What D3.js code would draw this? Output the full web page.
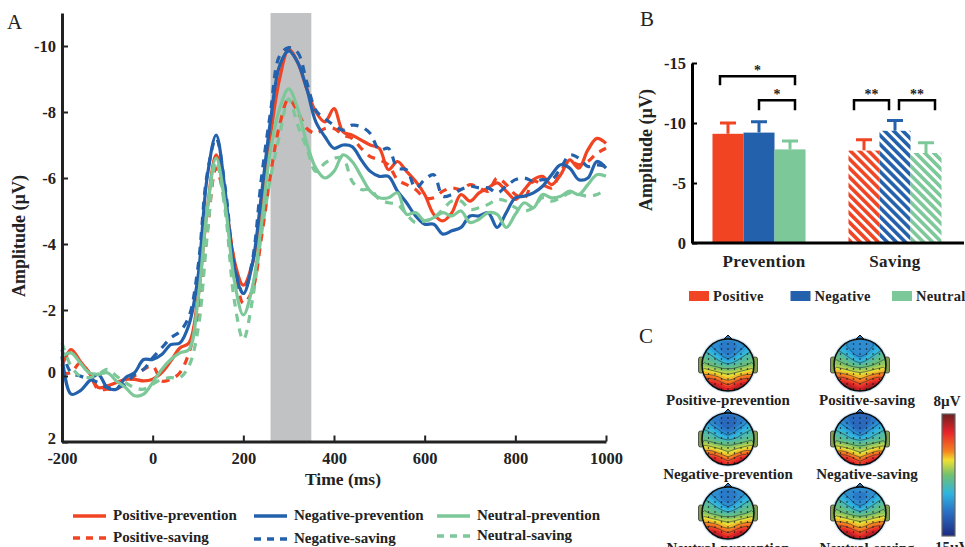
<!DOCTYPE html>
<html>
<head>
<meta charset="utf-8">
<script src="https://cdn.jsdelivr.net/npm/d3@7"></script>
<style>
  body { margin: 0; background: #fff; }
  svg { display: block; }
  text { font-family: "Liberation Serif", serif; font-weight: bold; fill: #222; }
  .panel { font-weight: normal; font-size: 21px; }
</style>
</head>
<body>
<div id="chart"></div>
<script>
/* A: ERP waveforms, sampled every 20 ms from -200 to 1000 */
const times = d3.range(-200, 1001, 20);

const positivePrevention = [-0.3,-0.8,-0.45,-0.1,0.35,0.3,0.2,0.1,0.1,0.15,
  0.1,-0.1,-0.45,-0.85,-1.0,-2.4,-5.0,-6.7,-5.3,-3.5,
  -2.75,-3.4,-5.0,-7.3,-9.0,-9.9,-9.5,-8.7,-8.0,-7.7,
  -8.1,-7.4,-7.3,-7.15,-7.0,-6.9,-6.25,-6.5,-6.2,-5.9,
  -5.5,-4.9,-4.7,-4.95,-5.5,-5.3,-5.55,-5.7,-5.85,-5.6,
  -5.35,-5.65,-5.95,-6.05,-5.8,-6.1,-6.55,-6.3,-6.85,-7.2,-7.05];
const positiveSaving = [-0.1,-0.1,-0.4,-0.1,0.4,0.4,0.4,0.2,0.0,-0.2,
  -0.3,0.15,0.1,-0.1,-0.7,-1.9,-4.3,-6.3,-5.2,-3.5,
  -2.2,-2.6,-4.2,-6.1,-7.6,-8.4,-8.0,-7.5,-7.35,-7.5,
  -7.5,-7.3,-7.2,-6.9,-6.65,-6.55,-6.4,-5.95,-5.8,-5.65,
  -5.4,-5.4,-5.6,-5.7,-5.65,-5.8,-5.7,-5.6,-6.0,-5.8,
  -5.5,-5.4,-5.9,-5.8,-5.7,-6.2,-6.5,-6.4,-6.5,-6.75,-6.9];
const negativePrevention = [-0.6,0.55,0.45,0.15,-0.05,0.35,0.4,0.05,-0.1,-0.5,
  -0.5,-0.65,-0.95,-1.0,-1.55,-3.0,-6.0,-7.3,-5.6,-3.3,
  -2.5,-3.4,-5.5,-7.75,-9.4,-9.85,-9.5,-8.7,-7.7,-7.25,
  -6.9,-7.0,-6.95,-6.55,-6.2,-6.05,-6.05,-5.6,-5.25,-4.85,
  -4.6,-4.6,-4.3,-4.4,-4.5,-4.85,-4.85,-4.95,-4.5,-4.95,
  -5.4,-5.45,-5.55,-5.75,-6.1,-6.4,-6.3,-5.95,-6.0,-6.5,-6.3];
const negativeSaving = [-0.8,-0.1,0.0,0.1,0.2,0.35,0.35,0.25,-0.05,-0.2,
  -0.55,-0.85,-1.15,-1.35,-1.8,-3.3,-6.1,-7.2,-5.7,-3.4,
  -2.5,-3.5,-6.0,-8.0,-9.7,-9.95,-9.8,-8.9,-8.05,-7.8,
  -7.6,-7.45,-7.6,-7.55,-7.35,-6.85,-6.9,-6.3,-6.25,-5.7,
  -5.95,-6.1,-5.45,-5.5,-5.65,-5.75,-5.7,-5.7,-5.55,-5.75,
  -5.95,-6.0,-5.9,-5.95,-5.95,-6.3,-6.7,-6.6,-6.35,-6.4,-6.35];
const neutralPrevention = [-0.6,-0.7,-0.4,-0.1,-0.05,-0.1,0.15,0.35,0.6,0.55,
  0.2,-0.2,-0.5,-0.7,-0.8,-2.3,-5.0,-6.6,-5.2,-2.9,
  -1.85,-2.7,-4.6,-6.85,-8.1,-8.7,-8.1,-7.05,-6.3,-6.0,
  -6.2,-6.7,-6.5,-6.05,-5.6,-5.4,-5.4,-5.55,-4.9,-4.95,
  -4.7,-4.8,-4.95,-4.85,-5.0,-4.65,-4.75,-4.95,-4.9,-4.5,
  -4.9,-5.25,-5.1,-5.5,-5.4,-5.45,-5.6,-5.5,-5.8,-6.1,-6.05];
const neutralSaving = [-1.0,-0.3,0.0,0.05,-0.05,-0.2,0.0,0.2,0.35,0.4,
  0.25,0.1,0.05,0.05,-0.3,-1.4,-4.2,-6.5,-5.0,-2.3,
  -1.1,-2.3,-4.3,-6.0,-7.3,-8.4,-7.6,-6.9,-6.2,-6.45,
  -6.6,-6.6,-5.9,-5.65,-5.65,-5.35,-5.25,-5.2,-4.9,-4.65,
  -4.7,-4.8,-5.05,-5.3,-5.3,-5.05,-5.1,-5.2,-5.35,-5.3,
  -5.1,-5.0,-5.1,-5.4,-5.3,-5.4,-5.55,-5.5,-5.45,-5.5,-5.65];

const windowMs = [260, 350];
const timeTicks = [-200, 0, 200, 400, 600, 800, 1000];
const ampTicks = [-10, -8, -6, -4, -2, 0, 2];

/* B: mean amplitude in the window, and the top of each error bar */
const groups = ["Prevention", "Saving"];
const conditions = ["Positive", "Negative", "Neutral"];
const preventionMeans = [-9.1, -9.2, -7.8];
const preventionErrTop = [-10.0, -10.1, -8.5];
const savingMeans = [-7.7, -9.35, -7.5];
const savingErrTop = [-8.6, -10.2, -8.35];
const barTicks = [-15, -10, -5, 0];

/* C: scalp map, amplitude on an 11 x 11 grid */
const topoGrid = [
  -9,-9,-9.5,-10,-10,-10,-10,-10,-9.5,-9,-9,
  -8,-8.5,-9.5,-10,-10.5,-10.5,-10.5,-10,-9.5,-8.5,-8,
  -6.5,-7.5,-8.5,-9.5,-10.5,-10.5,-10.5,-9.5,-8.5,-7.5,-6.5,
  -5.5,-6,-7,-8,-9.5,-10,-9.5,-8,-7,-6,-5.5,
  -4.5,-5,-5.5,-6.5,-7.5,-8.5,-7.5,-6.5,-5.5,-5,-4.5,
  -3.5,-4,-4.5,-5,-5.5,-6,-5.5,-5,-4.5,-4,-3.5,
  -1.5,-2,-2.5,-3,-3.5,-3.5,-3.5,-3,-2.5,-2,-1.5,
  0,0,-0.5,-1,-1.5,-2,-1.5,-1,-0.5,0,0,
  2,2.5,2,1,0,-0.5,0,1,2,2.5,2,
  3.5,5,5,4,2.5,1.5,2.5,4,5,5,3.5,
  5,6,6.5,6,5,4,5,6,6.5,6,5];
const topoNames = ["Positive-prevention", "Positive-saving", "Negative-prevention",
  "Negative-saving", "Neutral-prevention", "Neutral-saving"];
const topoShift = [1, 1.6, 0, -0.2, 1, 1.3];
const colorbarStops = [8, 4.5, 1, -0.7, -3.5, -7, -10.5, -15];
const colorbarColors = ["#6e2020", "#e8242a", "#f58220", "#f0e030", "#70c070", "#30b4e0", "#2a70c4", "#1e2a80"];

const red = "#F04423", blue = "#2461AC", green = "#7CC899";
const width = 965, height = 547;

const svg = d3.select("#chart").append("svg")
    .attr("width", width)
    .attr("height", height);

const defs = svg.append("defs");

/* ---------- panel A ---------- */
const x = d3.scaleLinear().domain([-200, 1000]).range([62, 606]);
const y = d3.scaleLinear().domain([2, -11]).range([442, 13]);

svg.append("text").attr("class", "panel").attr("x", 7).attr("y", 29).text("A");

svg.append("rect")
    .attr("x", x(windowMs[0]))
    .attr("y", y(-11))
    .attr("width", x(windowMs[1]) - x(windowMs[0]))
    .attr("height", y(2) - y(-11))
    .attr("fill", "#C1C2C4");

const line = d3.line()
    .x((d, i) => x(times[i]))
    .y(d => y(d))
    .curve(d3.curveCatmullRom);

// drawn pair by pair, green ends up on top like in the figure
const waves = [
  { values: positiveSaving, color: red, dash: "8 7" },
  { values: positivePrevention, color: red, dash: null },
  { values: negativeSaving, color: blue, dash: "8 7" },
  { values: negativePrevention, color: blue, dash: null },
  { values: neutralSaving, color: green, dash: "8 7" },
  { values: neutralPrevention, color: green, dash: null }
];

svg.append("g").selectAll("path")
    .data(waves)
    .join("path")
    .attr("d", d => line(d.values))
    .attr("fill", "none")
    .attr("stroke", d => d.color)
    .attr("stroke-width", 3.2)
    .attr("stroke-dasharray", d => d.dash);

function styleAxis(g, size, lineWidth, color) {
  g.selectAll(".domain").attr("stroke", color).attr("stroke-width", lineWidth);
  g.selectAll(".tick line").attr("stroke", color).attr("stroke-width", 2);
  g.selectAll(".tick text")
      .attr("font-size", size)
      .attr("font-family", "Liberation Serif")
      .attr("font-weight", "bold")
      .attr("fill", "#222");
}

const xAxisA = svg.append("g")
    .attr("transform", `translate(0,${y(2) - 0.5})`)
    .call(d3.axisBottom(x).tickValues(timeTicks).tickSizeInner(-6).tickSizeOuter(0).tickPadding(11).tickFormat(String));
styleAxis(xAxisA, 16.5, 3, "#222");

const yAxisA = svg.append("g")
    .attr("transform", `translate(${x(-200)},0)`)
    .call(d3.axisLeft(y).tickValues(ampTicks).tickSizeInner(-6).tickSizeOuter(0).tickPadding(6).tickFormat(String));
styleAxis(yAxisA, 16.5, 3, "#222");
yAxisA.selectAll(".tick text").filter(d => d >= 0).attr("dy", "0.1em");

svg.append("text")
    .attr("x", 343).attr("y", 485)
    .attr("text-anchor", "middle")
    .attr("font-size", 17.5)
    .text("Time (ms)");

svg.append("text")
    .attr("transform", "translate(25,236) rotate(-90)")
    .attr("text-anchor", "middle")
    .attr("font-size", 18)
    .text("Amplitude (µV)");

// legend of panel A
const legendX = d3.scalePoint().domain(["Positive", "Negative", "Neutral"]).range([73, 437]);
const legendItems = [
  { name: "Positive-prevention", cond: "Positive", color: red, dash: null, top: 516 },
  { name: "Positive-saving", cond: "Positive", color: red, dash: "7 6", top: 538 },
  { name: "Negative-prevention", cond: "Negative", color: blue, dash: null, top: 516 },
  { name: "Negative-saving", cond: "Negative", color: blue, dash: "7 6", top: 539 },
  { name: "Neutral-prevention", cond: "Neutral", color: green, dash: null, top: 516 },
  { name: "Neutral-saving", cond: "Neutral", color: green, dash: "7 6", top: 536 }
];
const legendA = svg.append("g").selectAll("g")
    .data(legendItems)
    .join("g")
    .attr("transform", d => `translate(${legendX(d.cond) - (d.cond == "Negative" ? 1 : 0)},${d.top})`);
legendA.append("line")
    .attr("x2", 33)
    .attr("stroke", d => d.color)
    .attr("stroke-width", 3.5)
    .attr("stroke-dasharray", d => d.dash);
legendA.append("text")
    .attr("x", 40).attr("y", 4)
    .attr("font-size", 15)
    .text(d => d.name);

/* ---------- panel B ---------- */
svg.append("text").attr("class", "panel").attr("x", 640).attr("y", 26).text("B");

const xb = d3.scaleBand().domain(groups).range([691, 963]).paddingInner(0.316).paddingOuter(0.158);
const xc = d3.scaleBand().domain(conditions).range([0, xb.bandwidth()]);
const yb = d3.scaleLinear().domain([0, -15]).range([243, 63]);
const condColor = d3.scaleOrdinal().domain(conditions).range([red, blue, green]);

conditions.forEach((c, i) => {
  const p = defs.append("pattern")
      .attr("id", "hatch" + i)
      .attr("patternUnits", "userSpaceOnUse")
      .attr("width", 6.4).attr("height", 6.4)
      .attr("patternTransform", "rotate(-45)");
  p.append("rect").attr("width", 6.4).attr("height", 6.4).attr("fill", "#fff");
  p.append("rect").attr("width", 3.6).attr("height", 6.4).attr("fill", condColor(c));
});

const barData = [];
conditions.forEach((c, i) => {
  barData.push({ group: "Prevention", cond: c, i: i, mean: preventionMeans[i], top: preventionErrTop[i] });
  barData.push({ group: "Saving", cond: c, i: i, mean: savingMeans[i], top: savingErrTop[i] });
});

const barX = d => xb(d.group) + xc(d.cond);
const barMid = d => barX(d) + xc.bandwidth() / 2;

// error bars go under the bars
svg.append("g").selectAll("path")
    .data(barData)
    .join("path")
    .attr("d", d => `M${barMid(d) - 8},${yb(d.top)}H${barMid(d) + 8}M${barMid(d)},${yb(d.top)}V${yb(d.mean)}`)
    .attr("fill", "none")
    .attr("stroke", d => condColor(d.cond))
    .attr("stroke-width", 3);

svg.append("g").selectAll("rect")
    .data(barData)
    .join("rect")
    .attr("x", barX)
    .attr("y", d => yb(d.mean))
    .attr("width", xc.bandwidth())
    .attr("height", d => yb(0) - yb(d.mean))
    .attr("fill", d => d.group == "Saving" ? `url(#hatch${d.i})` : condColor(d.cond));

const xAxisB = svg.append("g")
    .attr("transform", `translate(0,${yb(0)})`)
    .call(d3.axisBottom(xb).tickSize(0).tickPadding(12));
xAxisB.select(".domain").attr("d", "M692,0H964").attr("stroke", "#000").attr("stroke-width", 3);
styleAxis(xAxisB, 17, 3, "#000");
xAxisB.selectAll(".tick text").attr("letter-spacing", "0.4px");
xAxisB.selectAll(".tick text").filter(d => d == "Prevention").attr("dx", 5);

const yAxisB = svg.append("g")
    .attr("transform", "translate(692,0)")
    .call(d3.axisLeft(yb).tickValues(barTicks).tickSizeInner(-5).tickSizeOuter(0).tickPadding(6).tickFormat(String));
styleAxis(yAxisB, 16.5, 3, "#000");

svg.append("text")
    .attr("transform", "translate(652,150) rotate(-90)")
    .attr("text-anchor", "middle")
    .attr("font-size", 18)
    .text("Amplitude (µV)");

// significance brackets
const brackets = [
  { x0: 720, x1: 795, level: -13.9, drop: 9, label: "*" },
  { x0: 759, x1: 795, level: -11.9, drop: 10, label: "*" },
  { x0: 854, x1: 889, level: -11.9, drop: 10, label: "**" },
  { x0: 899, x1: 935, level: -11.9, drop: 10, label: "**" }
];
svg.append("g").selectAll("path")
    .data(brackets)
    .join("path")
    .attr("d", d => `M${d.x0},${yb(d.level) + d.drop}V${yb(d.level)}H${d.x1}V${yb(d.level) + d.drop}`)
    .attr("fill", "none")
    .attr("stroke", "#000")
    .attr("stroke-width", 2.5);
svg.append("g").selectAll("text")
    .data(brackets)
    .join("text")
    .attr("x", d => (d.x0 + d.x1) / 2)
    .attr("y", d => yb(d.level) - 1)
    .attr("text-anchor", "middle")
    .attr("font-size", 14)
    .text(d => d.label);

// legend of panel B
const swatchX = d3.scalePoint().domain(conditions).range([689, 892]);
const legendB = svg.append("g").selectAll("g")
    .data(conditions)
    .join("g")
    .attr("transform", d => `translate(${swatchX(d)},291)`);
legendB.append("rect").attr("width", 20).attr("height", 10).attr("fill", d => condColor(d));
legendB.append("text")
    .attr("x", 24).attr("y", 9.5)
    .attr("font-size", 14.5)
    .attr("letter-spacing", "0.3px")
    .text(d => d);

/* ---------- panel C ---------- */
svg.append("text").attr("class", "panel").attr("x", 639).attr("y", 343).text("C");

const topoColor = d3.scaleLinear().domain(colorbarStops).range(colorbarColors);
const headX = d3.scalePoint().domain([0, 1]).range([728, 860]);
const headY = d3.scalePoint().domain([0, 1, 2]).range([365, 513]);
const labelX = d3.scalePoint().domain([0, 1]).range([728, 867]);
const headR = 26;

defs.append("filter").attr("id", "soft")
    .append("feGaussianBlur").attr("stdDeviation", 0.5);

const levels = d3.range(-14, 9);
const lineLevels = [-8, -5.5, -3, -1, 1, 3];
const dotRows = [3, 5, 7, 7, 7, 7, 7, 7, 5, 3];

topoNames.forEach((name, k) => {
  const col = k % 2, row = Math.floor(k / 2);
  const cx = headX(col), cy = headY(row);
  const vals = topoGrid.map(v => v + topoShift[k]);
  const px = d3.scaleLinear().domain([0, 11]).range([cx - headR, cx + headR]);
  const py = d3.scaleLinear().domain([0, 11]).range([cy - headR, cy + headR]);
  const path = d3.geoPath(d3.geoTransform({
    point(a, b) { this.stream.point(px(a), py(b)); }
  }));

  defs.append("clipPath").attr("id", "head" + k)
    .append("circle").attr("cx", cx).attr("cy", cy).attr("r", headR);

  const g = svg.append("g").attr("filter", "url(#soft)");
  g.append("circle").attr("cx", cx).attr("cy", cy).attr("r", headR + 2).attr("fill", "#cfe4f5");
  g.append("path")
      .attr("d", `M${cx - 4},${cy - headR}L${cx},${cy - headR - 4}L${cx + 4},${cy - headR}Z`)
      .attr("fill", "#2a6fae").attr("stroke", "#111");
  [-1, 1].forEach(s => {
    g.append("rect")
        .attr("x", cx + s * (headR + 1) - 2.5).attr("y", cy - 8)
        .attr("width", 5).attr("height", 16).attr("rx", 2)
        .attr("fill", "#7f9f50").attr("stroke", "#333").attr("stroke-width", 0.8);
  });

  const inside = g.append("g").attr("clip-path", `url(#head${k})`);
  inside.append("rect")
      .attr("x", cx - headR).attr("y", cy - headR)
      .attr("width", 2 * headR).attr("height", 2 * headR)
      .attr("fill", topoColor(-15));
  inside.selectAll("path.band")
      .data(d3.contours().size([11, 11]).thresholds(levels)(vals))
      .join("path")
      .attr("class", "band")
      .attr("d", path)
      .attr("fill", d => topoColor(d.value));
  inside.selectAll("path.iso")
      .data(d3.contours().size([11, 11]).thresholds(lineLevels)(vals))
      .join("path")
      .attr("class", "iso")
      .attr("d", path)
      .attr("fill", "none")
      .attr("stroke", "#123")
      .attr("stroke-width", 0.5);

  dotRows.forEach((n, r) => {
    d3.range(n).forEach(j => {
      inside.append("circle")
          .attr("cx", cx + (j - (n - 1) / 2) * 6.5)
          .attr("cy", cy - 21 + r * 5)
          .attr("r", 0.75)
          .attr("fill", "#111");
    });
  });

  g.append("circle")
      .attr("cx", cx).attr("cy", cy).attr("r", headR)
      .attr("fill", "none").attr("stroke", "#111").attr("stroke-width", 1.5);

  svg.append("text")
      .attr("x", labelX(col))
      .attr("y", headY(row) + 40)
      .attr("text-anchor", "middle")
      .attr("font-size", 15)
      .text(name);
});

// colour bar, stops run from the top of the bar down
const barScale = d3.scaleLinear().domain([8, -15]).range([0, 100]);
const grad = defs.append("linearGradient")
    .attr("id", "cbar")
    .attr("x1", 0).attr("x2", 0).attr("y1", 0).attr("y2", 1);
colorbarStops.forEach((s, i) => {
  grad.append("stop").attr("offset", barScale(s) + "%").attr("stop-color", colorbarColors[i]);
});
svg.append("rect")
    .attr("x", 942).attr("y", 414)
    .attr("width", 13).attr("height", 122)
    .attr("fill", "url(#cbar)")
    .attr("stroke", "#666")
    .attr("stroke-width", 1.2);
svg.append("text").attr("x", 947).attr("y", 406).attr("text-anchor", "middle").attr("font-size", 15).text("8µV");
svg.append("text").attr("x", 935).attr("y", 552).attr("font-size", 15).text("15µV");
</script>
</body>
</html>
